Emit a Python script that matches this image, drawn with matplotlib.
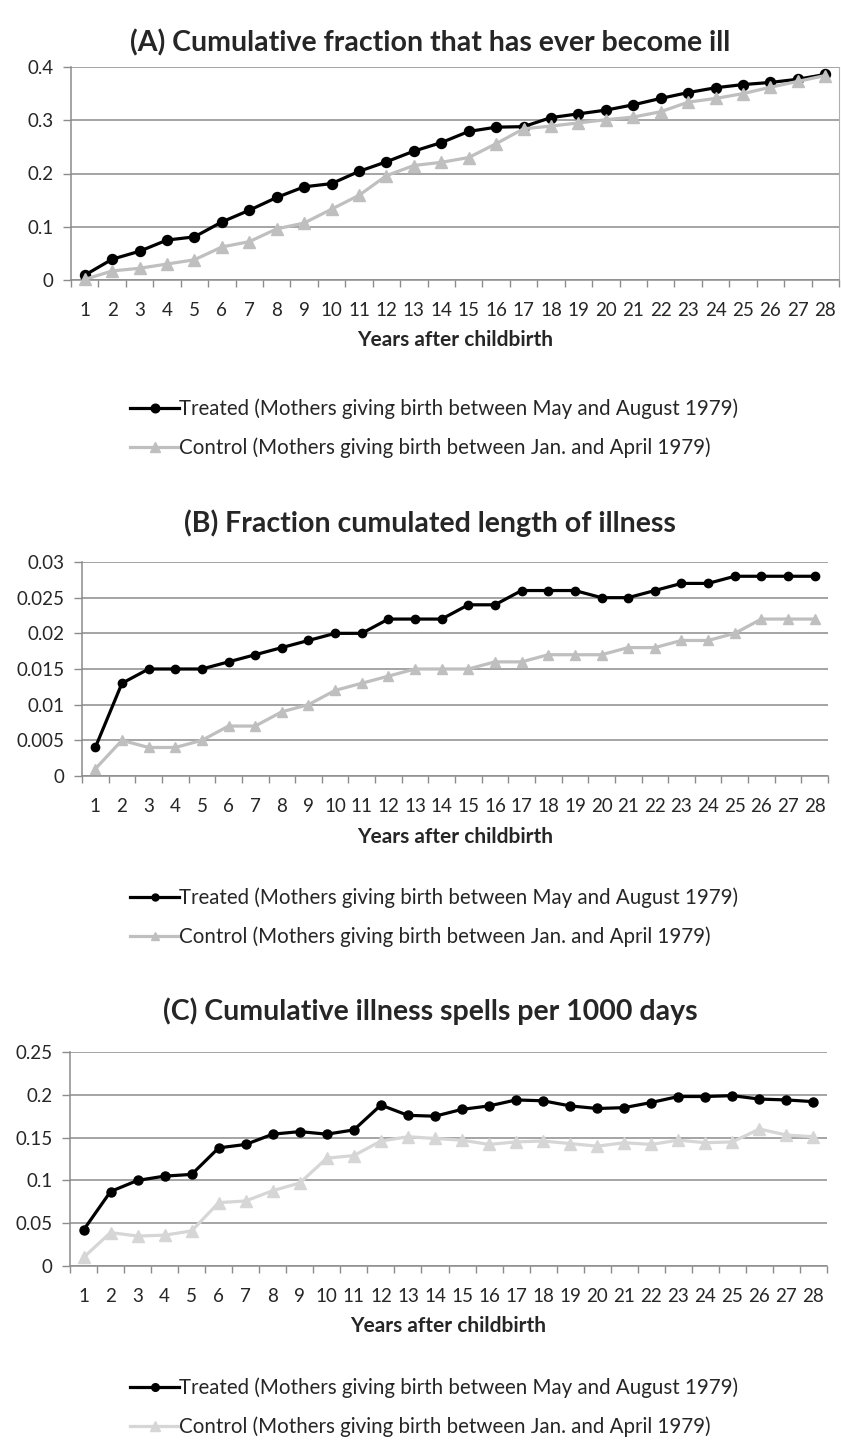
import numpy as np
import matplotlib.pyplot as plt
from matplotlib.lines import Line2D

years = list(range(1, 29))

# (A) cumulative fraction that has ever become ill
ill_treated = [0.009, 0.039, 0.054, 0.075, 0.081, 0.109, 0.131, 0.155, 0.175, 0.181,
               0.204, 0.222, 0.242, 0.258, 0.279, 0.287, 0.288, 0.305, 0.312, 0.319,
               0.329, 0.341, 0.352, 0.361, 0.367, 0.371, 0.377, 0.386]
ill_control = [0.001, 0.017, 0.022, 0.030, 0.038, 0.062, 0.072, 0.096, 0.107, 0.133,
               0.159, 0.196, 0.215, 0.221, 0.230, 0.256, 0.284, 0.289, 0.295, 0.301,
               0.306, 0.316, 0.334, 0.341, 0.350, 0.362, 0.373, 0.384]

# (B) fraction cumulated length of illness
len_treated = [0.004, 0.013, 0.015, 0.015, 0.015, 0.016, 0.017, 0.018, 0.019, 0.020,
               0.020, 0.022, 0.022, 0.022, 0.024, 0.024, 0.026, 0.026, 0.026, 0.025,
               0.025, 0.026, 0.027, 0.027, 0.028, 0.028, 0.028, 0.028]
len_control = [0.001, 0.005, 0.004, 0.004, 0.005, 0.007, 0.007, 0.009, 0.010, 0.012,
               0.013, 0.014, 0.015, 0.015, 0.015, 0.016, 0.016, 0.017, 0.017, 0.017,
               0.018, 0.018, 0.019, 0.019, 0.020, 0.022, 0.022, 0.022]

# (C) cumulative illness spells per 1000 days
spl_treated = [0.042, 0.087, 0.100, 0.105, 0.107, 0.138, 0.142, 0.154, 0.157, 0.154,
               0.159, 0.188, 0.176, 0.175, 0.183, 0.187, 0.194, 0.193, 0.187, 0.184,
               0.185, 0.191, 0.198, 0.198, 0.199, 0.195, 0.194, 0.192]
spl_control = [0.010, 0.039, 0.035, 0.036, 0.041, 0.074, 0.076, 0.088, 0.097, 0.126,
               0.129, 0.146, 0.151, 0.149, 0.147, 0.142, 0.145, 0.146, 0.143, 0.140,
               0.144, 0.142, 0.147, 0.144, 0.145, 0.160, 0.153, 0.151]

lab_t = "Treated (Mothers giving birth between May and August 1979)"
lab_c = "Control (Mothers giving birth between Jan. and April 1979)"

W, H = 841, 1447
plt.rcParams['font.family'] = ['Lato', 'DejaVu Sans']
fig = plt.figure(figsize=(W / 100, H / 100), dpi=100)
grid_col = '#8c8c8c'
txt_col = '#262626'


def px_axes(l, t, r, b):
    return fig.add_axes([l / W, 1 - b / H, (r - l) / W, (b - t) / H])


def panel(box, title, title_y, yt, ylabels, treated, control, ctrl_col, ms, xlab_y, leg_y, right_spine=False):
    ax = px_axes(*box)
    ax.plot(years, treated, color='black', lw=2.3, marker='o', ms=ms, zorder=3, clip_on=False)
    ax.plot(years, control, color=ctrl_col, lw=2.3, marker='^', ms=ms + 1.5, zorder=4, clip_on=False)
    ax.set_xlim(0.5, 28.5)
    ax.set_ylim(yt[0], yt[-1])
    ax.set_yticks(yt)
    ax.set_yticklabels(ylabels)
    ax.set_xticks(years)
    ax.set_xticks(np.arange(0.5, 29, 1), minor=True)
    ax.tick_params(axis='x', which='major', length=0, pad=15.5, labelsize=13.5, colors=txt_col)
    ax.tick_params(axis='x', which='minor', length=5, color=grid_col, width=1)
    ax.tick_params(axis='y', length=5.5, color=grid_col, width=1, pad=7, labelsize=13.5, colors=txt_col)
    ax.grid(axis='y', color=grid_col, lw=1.1)
    ax.set_axisbelow(True)
    for s in ['top', 'right']:
        ax.spines[s].set_visible(False)
    if right_spine:
        ax.spines['right'].set_visible(True)
        ax.spines['right'].set_color('#b0b0b0')
    for s in ['left', 'bottom']:
        ax.spines[s].set_color(grid_col)
        ax.spines[s].set_linewidth(1.1)
    fig.text(430 / W, 1 - title_y / H, title, ha='center', va='center', fontsize=20.5,
             fontweight='bold', color=txt_col)
    xc = (box[0] + box[2]) / 2
    fig.text(xc / W, 1 - xlab_y / H, 'Years after childbirth', ha='center', va='center',
             fontsize=15, fontweight='bold', color=txt_col)
    handles = [Line2D([], [], color='black', lw=2.3, marker='o', ms=ms - 1),
               Line2D([], [], color=ctrl_col, lw=2.3, marker='^', ms=ms)]
    fig.legend(handles, [lab_t, lab_c], loc='center', bbox_to_anchor=(434 / W, 1 - leg_y / H),
               frameon=False, fontsize=14.8, handlelength=2.4, handletextpad=0.0,
               labelspacing=0.9, labelcolor=txt_col)
    return ax


panel((71, 67, 839, 280), '(A) Cumulative fraction that has ever become ill', 43,
      [0, 0.1, 0.2, 0.3, 0.4], ['0', '0.1', '0.2', '0.3', '0.4'],
      ill_treated, ill_control, '#bfbfbf', 7.2, 340, 428, right_spine=True)

panel((82, 562, 828, 776), '(B) Fraction cumulated length of illness', 523,
      [0, 0.005, 0.01, 0.015, 0.02, 0.025, 0.03],
      ['0', '0.005', '0.01', '0.015', '0.02', '0.025', '0.03'],
      len_treated, len_control, '#bfbfbf', 6, 837, 917)

panel((70, 1052, 827, 1266), '(C) Cumulative illness spells per 1000 days', 1011,
      [0, 0.05, 0.1, 0.15, 0.2, 0.25], ['0', '0.05', '0.1', '0.15', '0.2', '0.25'],
      spl_treated, spl_control, '#d6d6d6', 6.5, 1326, 1407)

fig.savefig('out.png', dpi=100, facecolor='white')
